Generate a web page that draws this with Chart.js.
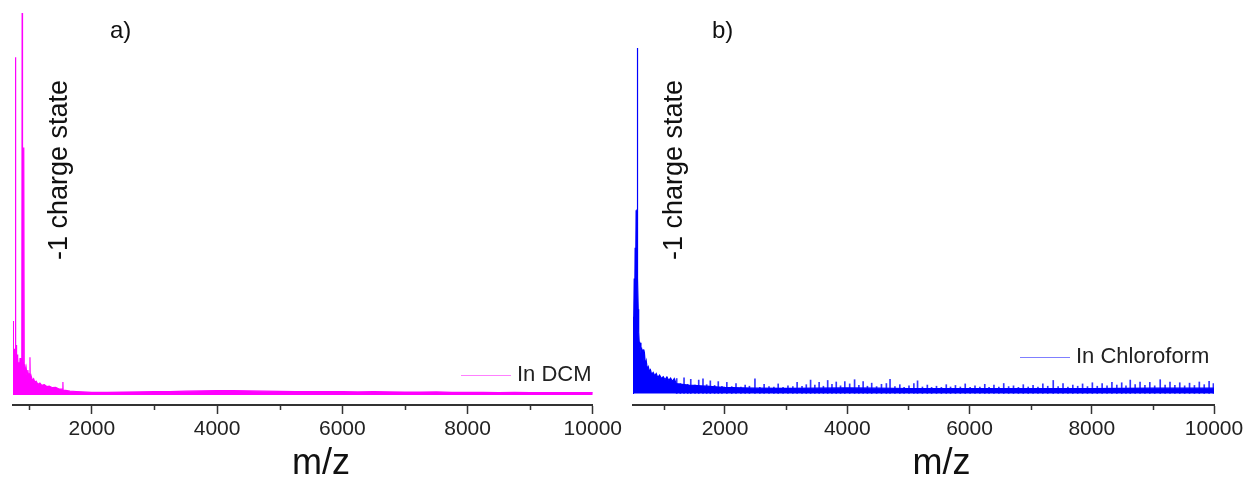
<!DOCTYPE html>
<html>
<head>
<meta charset="utf-8">
<script src="https://cdn.jsdelivr.net/npm/chart.js@4.4.0/dist/chart.umd.min.js"></script>
<style>
    body { margin: 0; background: #fff; width: 1250px; height: 483px; overflow: hidden; }
    .panel { position: absolute; top: 0; height: 483px; }
</style>
</head>
<body>
<div class="panel" style="left:0;width:625px"><canvas id="dcmChart"></canvas></div>
<div class="panel" style="left:620px;width:630px"><canvas id="chlChart"></canvas></div>
<script>
// tick labels on m/z axis
const majorTicks = [2000, 4000, 6000, 8000, 10000];
const minorTicks = [1000, 3000, 5000, 7000, 9000];

// a) spectrum in DCM
const dcmMz = [741, 742, 744, 750, 756, 762, 768, 775, 780, 782, 783, 784, 786, 792, 798, 805, 812, 820, 828, 836,
    845, 853, 860, 868, 876, 882, 887, 890, 896, 903, 910, 916, 920, 930, 940, 952, 965, 978, 990, 1000,
    1012, 1016, 1030, 1050, 1070, 1090, 1110, 1140, 1170, 1200, 1240, 1280, 1320, 1370, 1420, 1470, 1520, 1536, 1538, 1541,
    1580, 1650, 1750, 1850, 2000, 2250, 2500, 2750, 3000, 3250, 3500, 3750, 4000, 4250, 4500, 4750, 5000, 5250, 5500, 5750,
    6000, 6250, 6500, 6750, 7000, 7250, 7500, 7750, 8000, 8250, 8500, 8750, 9000, 9250, 9500, 9750, 10000];
const dcmIntensity = [2, 19.2, 6, 10, 5, 12, 7, 11, 8, 65.3, 9, 87.7, 10, 13, 8, 10.5, 7, 9.6, 6.5, 8.5,
    6, 9.6, 7, 8, 6.5, 12, 99.2, 10, 7, 8.5, 6, 64.3, 7, 8, 5.5, 7, 5, 6.5, 4.5, 5.5,
    9.8, 4, 5, 3.8, 4.2, 3.3, 3.6, 2.8, 3.1, 2.5, 2.7, 2.2, 2.3, 1.9, 2, 1.6, 1.5, 1.5, 3.4, 1.3,
    1.2, 1.0, 0.9, 0.8, 0.7, 0.7, 0.75, 0.8, 0.85, 0.9, 1.0, 1.05, 1.15, 1.15, 1.05, 1.0, 0.95, 0.9, 0.85, 0.9,
    0.85, 0.8, 0.85, 0.8, 0.75, 0.75, 0.8, 0.7, 0.7, 0.7, 0.65, 0.7, 0.65, 0.6, 0.65, 0.6, 0.6];

// b) spectrum in Chloroform: envelope + noise spikes
const chlMz = [495, 497, 503, 508, 515, 522, 530, 538, 546, 552, 558, 562, 565, 568, 574, 580, 588, 596, 605, 615,
    625, 635, 648, 660, 672, 685, 698, 712, 728, 745, 762, 780, 800, 825, 850, 875, 900, 930, 960, 990,
    1020, 1050, 1080, 1110, 1140, 1170, 1200, 1300, 1400, 1500, 1600, 1700, 1800, 1900, 2000, 2250, 2500, 3000, 3500, 4000,
    4500, 5000, 5500, 6000, 6500, 7000, 7500, 8000, 8500, 9000, 9500, 10000];
const chlIntensity = [0, 12, 20, 14, 30, 22, 38, 30, 47.8, 40, 47, 48, 90.1, 46, 30, 22, 16, 13.5, 12, 13.2,
    10.5, 12, 9.5, 11.5, 8.5, 10, 7.5, 8.5, 6.5, 7, 5.8, 6.2, 5, 5.5, 4.6, 5.2, 4.2, 4.8, 3.9, 4.4,
    3.6, 4.3, 3.4, 4, 3.2, 3.9, 2.6, 2.4, 2.2, 2.1, 2.0, 1.9, 1.8, 1.7, 1.6, 1.5, 1.4, 1.35, 1.4, 1.45,
    1.4, 1.3, 1.3, 1.25, 1.3, 1.25, 1.3, 1.3, 1.35, 1.4, 1.4, 1.4];
const chlSpikeMz = [1210, 1270, 1330, 1390, 1440, 1510, 1570, 1640, 1700, 1760, 1830, 1890, 1950, 2030, 2110, 2180,
    2260, 2330, 2400, 2490, 2570, 2640, 2720, 2800, 2870, 2950, 3030, 3110, 3180, 3260, 3330, 3400,
    3470, 3540, 3610, 3680, 3750, 3820, 3890, 3960, 4040, 4120, 4190, 4260, 4330, 4400, 4480, 4560,
    4640, 4700, 4780, 4860, 4930, 5010, 5090, 5150, 5230, 5310, 5380, 5460, 5540, 5620, 5690, 5770,
    5850, 5930, 6010, 6090, 6170, 6250, 6320, 6400, 6480, 6560, 6640, 6720, 6800, 6880, 6960, 7040,
    7120, 7200, 7280, 7370, 7450, 7530, 7610, 7690, 7770, 7850, 7930, 8010, 8090, 8170, 8250, 8330,
    8410, 8490, 8560, 8630, 8710, 8790, 8870, 8950, 9030, 9120, 9200, 9280, 9360, 9440, 9520, 9600,
    9680, 9760, 9840, 9920, 9990];
const chlSpikeHeight = [3.9, 2.6, 4.1, 2.4, 3.7, 2.2, 3.5, 3.8, 2.3, 3.3, 2.1, 3.1, 1.9, 2.9, 1.8, 2.6,
    1.7, 2.2, 1.9, 3.8, 1.6, 2.4, 1.8, 1.7, 2.5, 1.6, 2.0, 1.8, 2.9, 1.9, 2.3, 3.5,
    2.2, 2.9, 1.9, 3.4, 2.4, 3.0, 2.0, 3.1, 2.5, 3.6, 2.1, 3.1, 1.9, 2.7, 1.8, 2.4,
    2.6, 3.7, 1.8, 2.3, 1.6, 2.0, 2.6, 3.3, 1.7, 2.2, 1.6, 1.9, 1.6, 2.3, 1.7, 2.1,
    1.7, 2.5, 1.6, 2.0, 1.7, 2.4, 1.6, 2.2, 1.7, 2.6, 1.8, 2.0, 1.6, 2.3, 1.7, 2.1,
    1.7, 2.5, 1.9, 3.4, 1.8, 2.6, 1.7, 2.2, 1.9, 2.5, 1.8, 2.8, 1.9, 2.6, 2.0, 2.9,
    2.2, 2.8, 2.0, 3.5, 2.3, 3.0, 2.1, 2.9, 2.0, 3.6, 2.2, 3.0, 2.1, 2.8, 2.0, 2.7,
    2.1, 3.0, 2.3, 3.2, 2.6];

const FONT = '"Liberation Sans", Arial, sans-serif';

// minor ticks, axis title, legend and text labels inside the plot
const extrasPlugin = {
    id: 'extras',
    afterDraw(chart, args, opts) {
        const ctx = chart.ctx;
        const xs = chart.scales.x;
        const area = chart.chartArea;
        ctx.save();
        ctx.strokeStyle = '#333';
        ctx.lineWidth = 1.5;
        minorTicks.forEach(v => {
            if (v < xs.min || v > xs.max) return;
            const px = Math.round(xs.getPixelForValue(v)) + 0.5;
            ctx.beginPath();
            ctx.moveTo(px, xs.top);
            ctx.lineTo(px, xs.top + 5);
            ctx.stroke();
        });

        // axis title
        ctx.fillStyle = '#111';
        ctx.font = '36px ' + FONT;
        ctx.textAlign = 'center';
        ctx.textBaseline = 'alphabetic';
        ctx.fillText('m/z', (area.left + area.right) / 2 + 18, 474);

        // legend
        ctx.strokeStyle = opts.legendColor;
        ctx.lineWidth = 1;
        ctx.beginPath();
        ctx.moveTo(opts.legendX, opts.legendY + 0.5);
        ctx.lineTo(opts.legendX + 50, opts.legendY + 0.5);
        ctx.stroke();
        ctx.fillStyle = '#222';
        ctx.font = '22px ' + FONT;
        ctx.textBaseline = 'middle';
        ctx.textAlign = 'left';
        ctx.fillText(chart.data.datasets[0].label, opts.legendX + 56, opts.legendY);

        // panel letter
        ctx.font = '24px ' + FONT;
        ctx.fillStyle = '#111';
        ctx.fillText(opts.letter, opts.letterX, 31);

        // rotated note
        ctx.translate(opts.noteX, 170);
        ctx.rotate(-Math.PI / 2);
        ctx.textAlign = 'center';
        ctx.font = '27px ' + FONT;
        ctx.fillText('-1 charge state', 0, 0);
        ctx.restore();
    }
};

function makeChart(id, label, mz, intensity, spikeMz, spikeHeight, color, xMin, yMin, padRight, extras) {
    const datasets = [{
        label: label,
        data: mz.map((m, i) => ({ x: m, y: intensity[i] })),
        borderColor: color,
        backgroundColor: color,
        borderWidth: 1.2,
        pointRadius: 0,
        tension: 0,
        fill: 'origin'
    }];
    if (spikeMz.length) {
        datasets.push({
            type: 'bar',
            label: label + ' noise',
            data: spikeMz.map((m, i) => ({ x: m, y: spikeHeight[i] })),
            backgroundColor: 'rgba(0, 0, 255, 0.8)',
            borderWidth: 0,
            barThickness: 1
        });
    }
    return new Chart(document.getElementById(id).getContext('2d'), {
        type: 'line',
        data: { datasets },
        options: {
            responsive: true,
            maintainAspectRatio: false,
            animation: false,
            layout: { padding: { left: 13, right: padRight, top: 10, bottom: 0 } },
            scales: {
                x: {
                    type: 'linear',
                    min: xMin,
                    max: 10000,
                    offset: false,
                    afterBuildTicks: s => { s.ticks = majorTicks.map(v => ({ value: v })); },
                    afterFit: s => { s.height = 78; },
                    ticks: {
                        color: '#222',
                        padding: 3,
                        maxRotation: 0,
                        autoSkip: false,
                        callback: v => String(v),
                        font: { family: FONT, size: 21 }
                    },
                    grid: { drawOnChartArea: false, offset: false, tickLength: 9, tickColor: '#333', tickWidth: 1.5 },
                    border: { color: '#333', width: 2 }
                },
                y: { display: false, min: yMin, max: 100 }
            },
            plugins: {
                legend: { display: false },
                tooltip: { enabled: false },
                extras: extras
            }
        },
        plugins: [extrasPlugin]
    });
}

makeChart('dcmChart', 'In DCM', dcmMz, dcmIntensity, [], [], '#ff00ff', 741, -2.6, 31,
    { legendX: 461, legendY: 375, legendColor: '#ff7fff', letter: 'a)', letterX: 110, noteX: 60 });
makeChart('chlChart', 'In Chloroform', chlMz, chlIntensity, chlSpikeMz, chlSpikeHeight, '#0000ff', 495, -3, 36,
    { legendX: 400, legendY: 357, legendColor: '#7f7fff', letter: 'b)', letterX: 92, noteX: 55 });
</script>
</body>
</html>
